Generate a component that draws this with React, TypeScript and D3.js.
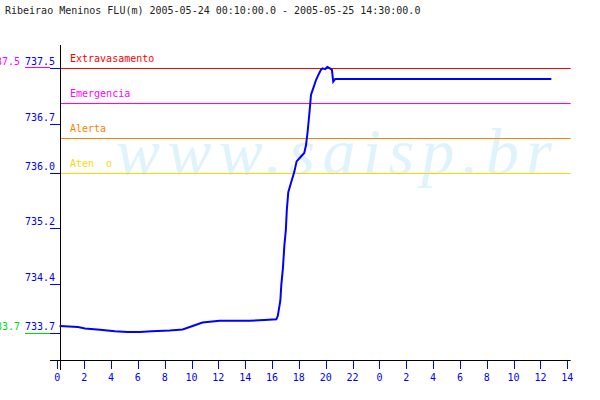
import React from "react";
import * as d3 from "d3";

const title = "Ribeirao Meninos FLU(m) 2005-05-24 00:10:00.0 - 2005-05-25 14:30:00.0";

// hours since 2005-05-24 00:00
const hours = [
  0.17, 1.54, 2.06, 3.18, 4.29, 5.25, 6.14, 7.04, 8.37, 9.34, 10.08, 10.82, 12.09, 14.32, 15.43, 16.32,
  16.43, 16.62, 16.69, 16.81, 16.92, 17.03, 17.1, 17.21, 17.41, 17.66, 17.83, 18.16, 18.4, 18.53, 18.65,
  18.77, 18.85, 18.9, 19.15, 19.27, 19.46, 19.64, 19.76, 19.96, 20.13, 20.31, 20.46, 20.56, 20.71, 36.81,
];
const levels = [
  733.805, 733.79, 733.77, 733.75, 733.73, 733.72, 733.72, 733.73, 733.74, 733.755, 733.805, 733.855, 733.88, 733.88, 733.89, 733.9,
  733.95, 734.17, 734.39, 734.63, 734.96, 735.18, 735.46, 735.72, 735.85, 736.01, 736.16, 736.23, 736.28, 736.39, 736.58,
  736.82, 736.99, 737.11, 737.25, 737.32, 737.4, 737.47, 737.49, 737.48, 737.51, 737.49, 737.47, 737.3, 737.34, 737.34,
];

const xTickHours = [0, 2, 4, 6, 8, 10, 12, 14, 16, 18, 20, 22, 24, 26, 28, 30, 32, 34, 36, 38];
const yTicks = [737.5, 736.7, 736.0, 735.2, 734.4, 733.7];

const thresholdNames = ["Extravasamento", "Emergencia", "Alerta", "Aten  o"];
const thresholdValues = [737.5, 737.0, 736.5, 736.0];
const thresholdColors = ["#ff0000", "#ff00ff", "#ff8000", "#ffd700"];

const maxLevel = 737.5;
const minLevel = 733.7;

const FONT = "'DejaVu Sans Mono', monospace";

export default function App() {
  const W = 600, H = 400;
  const x = d3.scaleLinear().domain([0, 38]).range([57.3, 567.3]);
  const y = d3.scaleLinear().domain([minLevel, maxLevel]).range([333.3, 67.7]);
  const plotLeft = 60.5, plotRight = 570.7;

  const line = d3
    .line<number>()
    .x((_, i) => x(hours[i]))
    .y((d) => y(d))
    .curve(d3.curveLinear);

  return (
    <svg
      width={W}
      height={H}
      style={{ position: "absolute", left: 0, top: 0, background: "#fff" }}
      fontFamily={FONT}
    >
      <rect width={W} height={H} fill="#fff" />
      <text x={5} y={14} fontSize={10} fill="#222">
        {title}
      </text>

      {/* watermark */}
      <text
        x={116}
        y={174}
        fontSize={66}
        fontStyle="italic"
        fontFamily="'Liberation Serif', 'DejaVu Serif', serif"
        fill="#dff3fc"
        textLength={436}
        lengthAdjust="spacing"
      >
        www.saisp.br
      </text>

      {/* thresholds */}
      {thresholdValues.map((v, i) => (
        <g key={thresholdNames[i]}>
          <line
            x1={plotLeft}
            x2={plotRight}
            y1={Math.round(y(v)) + 0.5}
            y2={Math.round(y(v)) + 0.5}
            stroke={thresholdColors[i]}
            strokeWidth={1}
          />
          <text
            x={70}
            y={y(v) - 5.5}
            fontSize={10}
            fill={thresholdColors[i]}
            style={{ whiteSpace: "pre" }}
            xmlSpace="preserve"
          >
            {thresholdNames[i]}
          </text>
        </g>
      ))}

      {/* axes */}
      <line x1={plotLeft} x2={plotLeft} y1={45} y2={370} stroke="#000" />
      <line x1={50} x2={plotRight} y1={360.5} y2={360.5} stroke="#000" />

      {xTickHours.map((h) => (
        <g key={h}>
          <line x1={Math.round(x(h)) + 0.5} x2={Math.round(x(h)) + 0.5} y1={361} y2={369} stroke="#0000ff" />
          <text x={x(h)} y={381} fontSize={10} fill="#0000ff" textAnchor="middle">
            {String(h % 24)}
          </text>
        </g>
      ))}

      {/* extreme markers */}
      <line x1={25} x2={50} y1={Math.round(y(maxLevel)) - 0.5} y2={Math.round(y(maxLevel)) - 0.5} stroke="#ff00ff" />
      <text x={20} y={y(maxLevel) - 3} fontSize={10} fill="#ff00ff" textAnchor="end">
        {maxLevel.toFixed(1)}
      </text>
      <line x1={25} x2={50} y1={Math.round(y(minLevel)) + 0.5} y2={Math.round(y(minLevel)) + 0.5} stroke="#00dd00" />
      <text x={20} y={y(minLevel) - 3} fontSize={10} fill="#00dd00" textAnchor="end">
        {minLevel.toFixed(1)}
      </text>

      {yTicks.map((v) => (
        <g key={v}>
          <line x1={50} x2={plotLeft} y1={Math.round(y(v)) + 0.5} y2={Math.round(y(v)) + 0.5} stroke="#0000ff" />
          <text x={55} y={y(v) - 3} fontSize={10} fill="#0000ff" textAnchor="end">
            {v.toFixed(1)}
          </text>
        </g>
      ))}

      {/* data */}
      <path d={line(levels) || ""} fill="none" stroke="#0000ff" strokeWidth={2} />
    </svg>
  );
}
